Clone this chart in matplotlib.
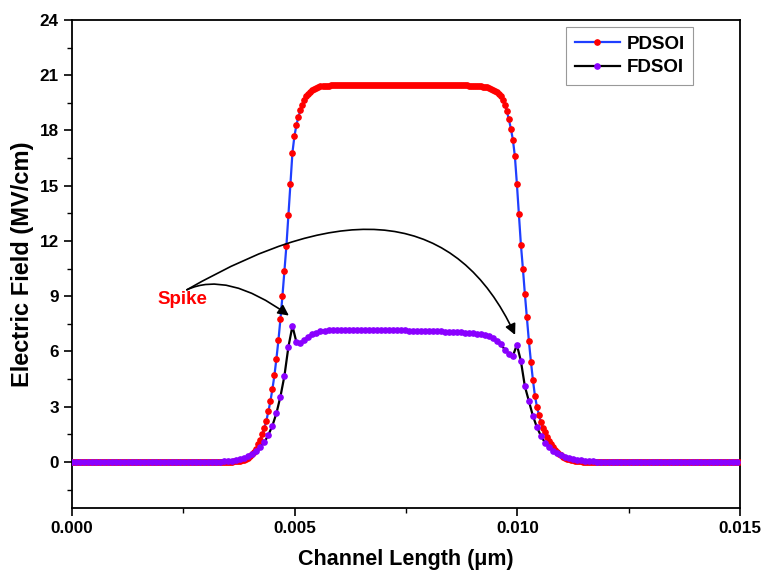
import numpy as np
import matplotlib
matplotlib.use("Agg")
import matplotlib.pyplot as plt
from matplotlib.ticker import MultipleLocator, FormatStrFormatter

plt.rcParams['font.family'] = ['Liberation Sans', 'DejaVu Sans']
plt.rcParams['font.weight'] = 'bold'

# ---------------- data ----------------
series_names = ["PDSOI", "FDSOI"]
pdsoi_step = 4.5e-5   # mesh spacing (um) of the PDSOI cutline
fdsoi_step = 9.0e-5   # mesh spacing (um) of the FDSOI cutline

pdsoi_field = [
    0, 0, 0, 0, 0, 0, 0, 0, 0, 0, 0, 0, 0, 0, 0, 0, 0, 0, 0, 0, 0, 0, 0, 0, 0,
    0, 0, 0, 0, 0, 0, 0, 0, 0, 0, 0, 0, 0, 0, 0, 0, 0, 0, 0, 0, 0, 0, 0, 0, 0,
    0, 0, 0, 0, 0, 0, 0, 0, 0, 0, 0, 0, 0, 0, 0, 0, 0, 0, 0, 0, 0, 0, 0, 0, 0,
    0, 0, 0.01, 0.01, 0.01, 0.02, 0.03, 0.04, 0.05, 0.07, 0.10, 0.13, 0.18, 0.24, 0.32,
    0.42, 0.55, 0.72, 0.95, 1.2, 1.5, 1.85, 2.25, 2.75, 3.3, 3.95, 4.7, 5.6, 6.6,
    7.75, 9.0, 10.35, 11.75, 13.4, 15.1, 16.8, 17.7, 18.3, 18.75, 19.1, 19.4, 19.65,
    19.85, 20.0, 20.1, 20.2, 20.27, 20.32, 20.36, 20.39, 20.41, 20.42, 20.43, 20.44,
    20.45, 20.46, 20.46, 20.46, 20.46, 20.46,
    20.47, 20.47, 20.47, 20.47, 20.47, 20.48, 20.48, 20.48, 20.48, 20.48, 20.48, 20.48,
    20.48, 20.48, 20.48, 20.48, 20.48, 20.48, 20.48, 20.48, 20.48, 20.48, 20.48, 20.48,
    20.48, 20.48, 20.48, 20.48, 20.48, 20.48, 20.48, 20.48, 20.48, 20.48, 20.48, 20.48,
    20.48, 20.48, 20.48, 20.48, 20.48, 20.48, 20.48, 20.47, 20.47, 20.47, 20.47, 20.47,
    20.47, 20.47, 20.47, 20.47, 20.47, 20.47, 20.47, 20.47,
    20.46, 20.46, 20.46, 20.46, 20.45, 20.45, 20.45, 20.44, 20.44,
    20.43, 20.42, 20.41, 20.40, 20.39, 20.38, 20.36, 20.34, 20.31, 20.27, 20.22,
    20.16, 20.08, 19.98, 19.85, 19.65, 19.4, 19.05, 18.6, 18.1, 17.5, 16.6, 15.1,
    13.45, 11.8, 10.5, 9.1, 7.85, 6.55, 5.45, 4.45, 3.6, 3.0, 2.55, 2.15, 1.85, 1.6,
    1.38, 1.15, 0.95, 0.8, 0.66, 0.54, 0.44, 0.36, 0.29, 0.23, 0.18, 0.14, 0.11, 0.08,
    0.06, 0.05, 0.04, 0.03, 0.02, 0.01, 0.01, 0.01,
    0, 0, 0, 0, 0, 0, 0, 0, 0, 0, 0, 0, 0, 0, 0, 0, 0, 0, 0, 0, 0, 0, 0, 0, 0,
    0, 0, 0, 0, 0, 0, 0, 0, 0, 0, 0, 0, 0, 0, 0, 0, 0, 0, 0, 0, 0, 0, 0, 0, 0,
    0, 0, 0, 0, 0, 0, 0, 0, 0, 0, 0, 0, 0, 0, 0, 0, 0, 0, 0, 0, 0, 0, 0, 0, 0,
]

fdsoi_field = [
    0, 0, 0, 0, 0, 0, 0, 0, 0, 0, 0, 0, 0, 0, 0, 0, 0, 0, 0, 0, 0, 0, 0, 0, 0,
    0, 0, 0, 0, 0, 0, 0, 0, 0, 0,
    0.01, 0.01, 0.02, 0.03, 0.05, 0.07, 0.10, 0.15, 0.21, 0.30, 0.42, 0.58, 0.80,
    1.07, 1.47, 1.97, 2.64, 3.55, 4.67, 6.26, 7.38, 6.5, 6.45, 6.62, 6.8, 6.95,
    7.03, 7.09, 7.13, 7.16,
    7.17, 7.17, 7.17, 7.17, 7.17, 7.17, 7.17, 7.16, 7.16, 7.16, 7.16, 7.16, 7.15,
    7.15, 7.15, 7.15,
    7.14, 7.14, 7.14, 7.13, 7.13, 7.12, 7.12, 7.11, 7.11, 7.10, 7.10, 7.09, 7.08,
    7.08, 7.07, 7.06,
    7.05, 7.03, 7.01, 6.98, 6.96, 6.93, 6.88, 6.82, 6.72, 6.58, 6.38, 6.1, 5.88,
    5.76, 6.36, 5.48, 4.1, 3.3, 2.5, 1.88, 1.42, 1.05, 0.8, 0.6, 0.46, 0.36, 0.27,
    0.2, 0.15, 0.11, 0.08, 0.06, 0.04, 0.03, 0.02, 0.01, 0.01,
    0, 0, 0, 0, 0, 0, 0, 0, 0, 0, 0, 0, 0, 0, 0, 0, 0, 0, 0, 0, 0, 0, 0, 0, 0,
    0, 0, 0, 0, 0, 0, 0, 0,
]

x_ticks = [0.000, 0.005, 0.010, 0.015]
y_ticks = [0, 3, 6, 9, 12, 15, 18, 21, 24]

x_pd = pdsoi_step * np.arange(len(pdsoi_field))
x_fd = fdsoi_step * np.arange(len(fdsoi_field))

# ---------------- figure ----------------
fig = plt.figure(figsize=(7.61, 5.76), dpi=100)
ax = fig.add_axes([72 / 761, 68 / 576, 668 / 761, 488 / 576])

ax.plot(x_pd, pdsoi_field, color='#1f3fff', lw=1.6, marker='o', ms=3.8,
        mfc='#ff0000', mec='#ff0000', label=series_names[0], zorder=3)
ax.plot(x_fd, fdsoi_field, color='black', lw=1.6, marker='o', ms=3.8,
        mfc='#8a00ff', mec='#8a00ff', label=series_names[1], zorder=4)

ax.set_xlim(0, 0.015)
ax.set_ylim(-2.5, 24)
ax.set_xticks(x_ticks)
ax.set_yticks(y_ticks)
ax.xaxis.set_minor_locator(MultipleLocator(0.0025))
ax.yaxis.set_minor_locator(MultipleLocator(1.5))
ax.xaxis.set_major_formatter(FormatStrFormatter('%.3f'))
ax.tick_params(which='major', direction='out', length=6, width=1.2,
               labelsize=12.3, top=False, right=False)
ax.tick_params(which='minor', direction='out', length=3.5, width=1.0,
               top=False, right=False)
for lab in ax.get_xticklabels() + ax.get_yticklabels():
    lab.set_fontweight('bold')
for sp in ax.spines.values():
    sp.set_linewidth(1.3)

ax.set_xlabel('Channel Length (\u03bcm)', fontsize=15.5, fontweight='bold', labelpad=9)
ax.set_ylabel('Electric Field (MV/cm)', fontsize=17, fontweight='bold', labelpad=4)

leg = ax.legend(loc='upper right', bbox_to_anchor=((693 - 72) / 668, 1 - 7 / 488),
                borderaxespad=0, fancybox=False, frameon=True,
                handlelength=2.4, handletextpad=0.35, borderpad=0.45,
                labelspacing=0.36, prop={'weight': 'bold', 'size': 13.5})
leg.get_frame().set_edgecolor('#808080')
leg.get_frame().set_linewidth(0.8)

# annotation
ax.text(0.00249, 8.8, 'Spike', color='#ff0000', fontsize=13.5, fontweight='bold',
        ha='center', va='center')
start = (0.00258, 9.35)
ax.annotate('', xy=(0.00487, 7.95), xytext=start,
            arrowprops=dict(arrowstyle='-|>', color='black', lw=1.2,
                            mutation_scale=16, shrinkA=0, shrinkB=0,
                            connectionstyle='angle3,angleA=25,angleB=-36'))
ax.annotate('', xy=(0.00995, 6.9), xytext=start,
            arrowprops=dict(arrowstyle='-|>', color='black', lw=1.2,
                            mutation_scale=16, shrinkA=0, shrinkB=0,
                            connectionstyle='angle3,angleA=30,angleB=115'))

fig.savefig('out.png', dpi=100)
